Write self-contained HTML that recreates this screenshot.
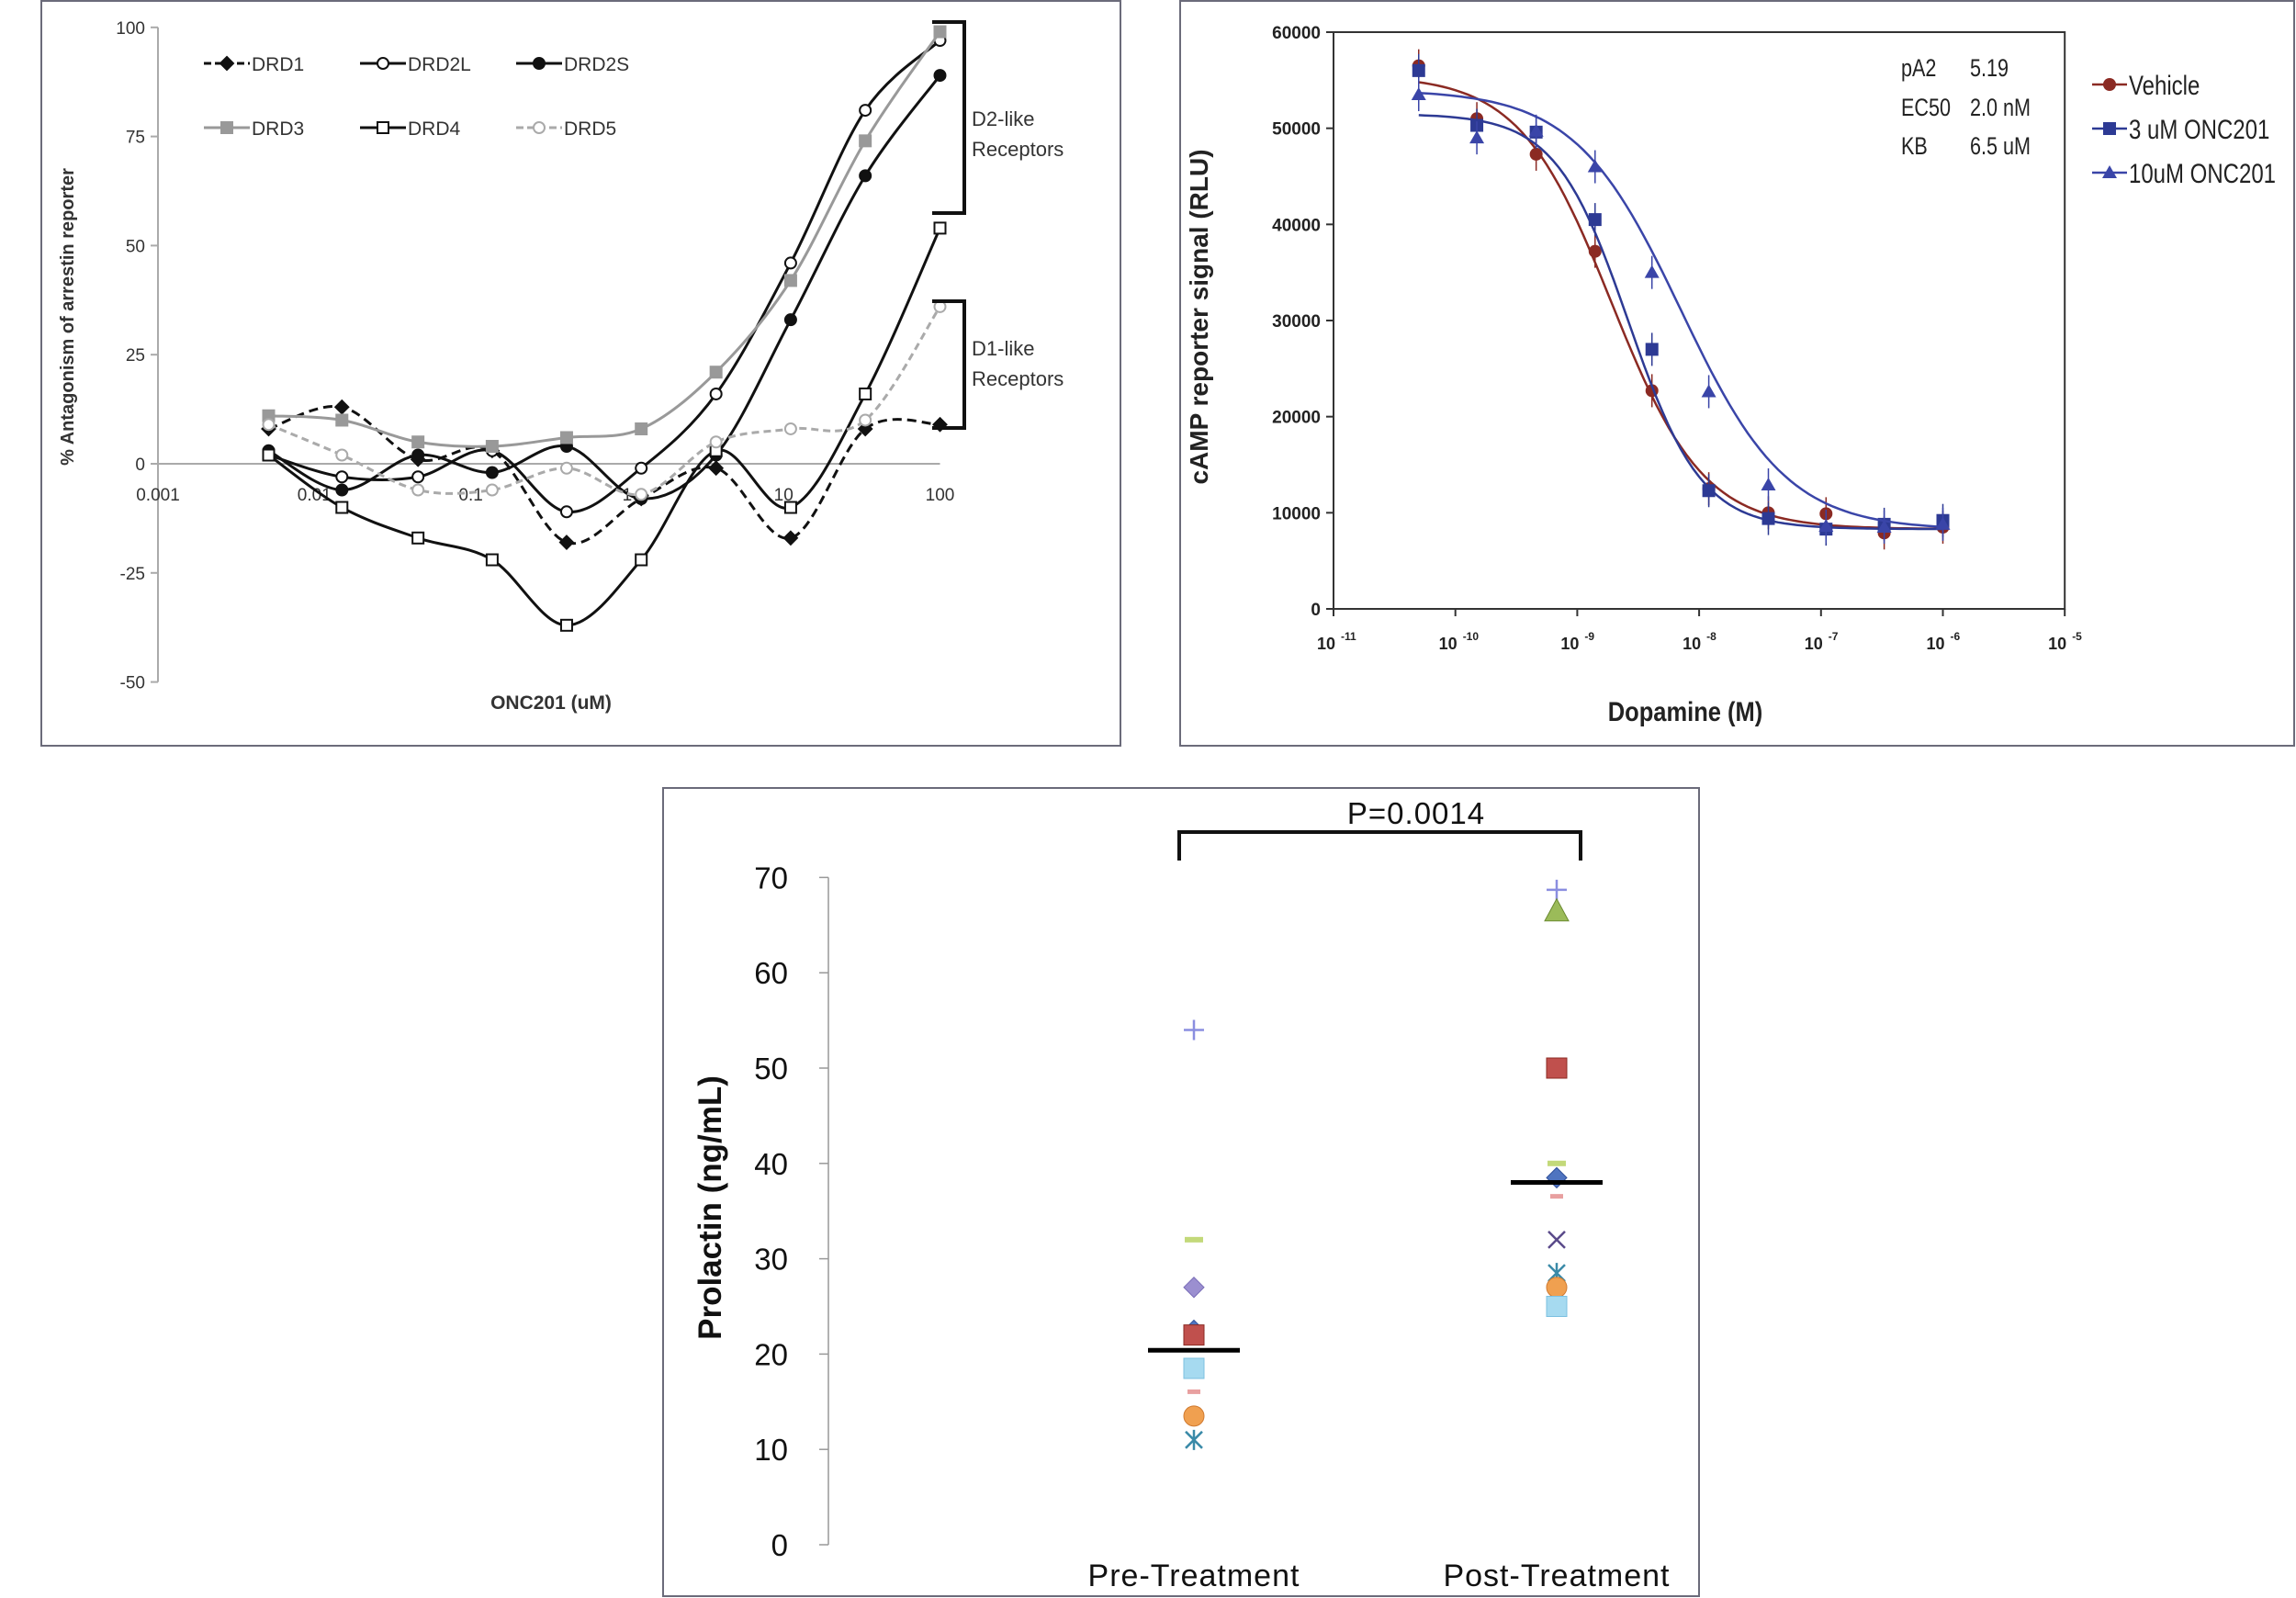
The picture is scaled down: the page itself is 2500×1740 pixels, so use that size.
<!DOCTYPE html>
<html><head><meta charset="utf-8"><style>
html,body{margin:0;padding:0;background:#fff;}
svg{display:block;font-family:"Liberation Sans",sans-serif;}
</style></head><body>
<svg id="s" width="2500" height="1740" viewBox="0 0 2500 1740">
<rect x="45" y="1" width="1175" height="811" fill="none" stroke="#6b6b7a" stroke-width="2"/>
<rect x="1285" y="1" width="1213" height="811" fill="none" stroke="#6b6b7a" stroke-width="2"/>
<rect x="722" y="858" width="1128" height="880" fill="none" stroke="#6b6b7a" stroke-width="2"/>
<g id="ga"></g><g id="gb"></g><g id="gc"></g>
</svg>
<script>
// ---- Panel A data ----
const aConc = [0.0051,0.015,0.046,0.137,0.41,1.23,3.7,11.1,33.3,100];
const drd1 = [8,13,1,3,-18,-8,-1,-17,8,9];
const drd2l = [2,-3,-3,3,-11,-1,16,46,81,97];
const drd2s = [3,-6,2,-2,4,-8,2,33,66,89];
const drd3 = [11,10,5,4,6,8,21,42,74,99];
const drd4 = [2,-10,-17,-22,-37,-22,3,-10,16,54];
const drd5 = [9,2,-6,-6,-1,-7,5,8,10,36];
const aYTicks = [100,75,50,25,0,-25,-50];
const aXTicks = [0.001,0.01,0.1,1,10,100];
const aXTickLabels = ["0.001","0.01","0.1","1","10","100"];
// ---- Panel B data ----
const bConc = [5e-11,1.5e-10,4.6e-10,1.4e-9,4.1e-9,1.2e-8,3.7e-8,1.1e-7,3.3e-7,1e-6];
const vehicle = [56500,51000,47300,37200,22700,12500,10000,9900,7900,8500];
const onc3 = [56000,50300,49600,40500,27000,12300,9400,8300,8800,9200];
const onc10 = [53500,49000,49700,46000,35000,22600,12900,8600,8500,8800];
const fitTop = [55500,51500,54000];
const fitBottom = [8300,8300,8200];
const fitLogEC50 = [-8.72,-8.58,-8.15];
const fitHill = [1.15,1.45,1.0];
const bYTicks = [0,10000,20000,30000,40000,50000,60000];
const bXExp = [-11,-10,-9,-8,-7,-6,-5];
// ---- Panel C data ----
const preVals = [54,32,27,22.5,22,18.5,16,13.5,11];
const postVals = [68.7,66.5,50,40,38.5,36.5,32,28.5,27,25];
const preMean = [20.4];
const postMean = [38];
const cYTicks = [0,10,20,30,40,50,60,70];
const cCats = ["Pre-Treatment","Post-Treatment"];

const NS="http://www.w3.org/2000/svg";
function mk(parent,tag,attrs,txt){const e=document.createElementNS(NS,tag);for(const k in attrs)e.setAttribute(k,attrs[k]);if(txt!==undefined)e.textContent=txt;parent.appendChild(e);return e;}
function smooth(pts){let d="M"+pts[0][0]+","+pts[0][1];for(let i=0;i<pts.length-1;i++){const p0=pts[i-1]||pts[i],p1=pts[i],p2=pts[i+1],p3=pts[i+2]||p2;const c1=[p1[0]+(p2[0]-p0[0])/6,p1[1]+(p2[1]-p0[1])/6],c2=[p2[0]-(p3[0]-p1[0])/6,p2[1]-(p3[1]-p1[1])/6];d+=" C"+c1+" "+c2+" "+p2;}return d;}

// ===== Panel A =====
const ga=document.getElementById('ga');
const xA=v=>172+(Math.log10(v)+3)*170.3, yA=v=>505-v*4.752;
let e=mk(ga,'line',{x1:172,y1:yA(100),x2:172,y2:yA(-50),stroke:'#aaa','stroke-width':2});

e=mk(ga,'line',{x1:172,y1:yA(0),x2:xA(100),y2:yA(0),stroke:'#aaa','stroke-width':2});

aYTicks.forEach(t=>{mk(ga,'line',{x1:164,y1:yA(t),x2:172,y2:yA(t),stroke:'#aaa','stroke-width':2});
 e=mk(ga,'text',{x:158,y:yA(t)+7,'text-anchor':'end','font-size':19,fill:'#333'},t);
 });
aXTicks.forEach((t,i)=>{e=mk(ga,'text',{x:xA(t),y:545,'text-anchor':'middle','font-size':19,fill:'#333'},aXTickLabels[i]);
 });
e=mk(ga,'text',{x:0,y:0,transform:'translate(80,345) rotate(-90)','text-anchor':'middle','font-size':20,'font-weight':'bold',fill:'#333'},'% Antagonism of arrestin reporter');

e=mk(ga,'text',{x:600,y:772,'text-anchor':'middle','font-size':21,'font-weight':'bold',fill:'#333'},'ONC201 (uM)');

const aSeries=[
 {n:'DRD1',d:drd1,c:'#111',dash:'10,6',m:'diamond',fill:'#111'},
 {n:'DRD2L',d:drd2l,c:'#111',dash:'',m:'circle',fill:'#fff'},
 {n:'DRD2S',d:drd2s,c:'#111',dash:'',m:'circle',fill:'#111'},
 {n:'DRD3',d:drd3,c:'#999',dash:'',m:'square',fill:'#999'},
 {n:'DRD4',d:drd4,c:'#111',dash:'',m:'square',fill:'#fff'},
 {n:'DRD5',d:drd5,c:'#aaa',dash:'8,5',m:'circle',fill:'#fff'}];
function marker(g,m,x,y,c,f,r){
 if(m==='circle')return mk(g,'circle',{cx:x,cy:y,r:r,fill:f,stroke:c,'stroke-width':2});
 if(m==='square')return mk(g,'rect',{x:x-r,y:y-r,width:2*r,height:2*r,fill:f,stroke:c,'stroke-width':2});
 return mk(g,'path',{d:`M${x},${y-r-1}L${x+r+1},${y}L${x},${y+r+1}L${x-r-1},${y}Z`,fill:f,stroke:c,'stroke-width':2});}
aSeries.forEach((s,si)=>{
 const pts=s.d.map((v,i)=>[xA(aConc[i]),yA(v)]);
 e=mk(ga,'path',{d:smooth(pts),fill:'none',stroke:s.c,'stroke-width':3,'stroke-dasharray':s.dash});
 
 pts.forEach(p=>{e=marker(ga,s.m,p[0],p[1],s.c,s.fill,6);
  });
 const lx=222+(si%3)*170, ly=si<3?69:139;
 e=mk(ga,'line',{x1:lx,y1:ly,x2:lx+50,y2:ly,stroke:s.c,'stroke-width':3,'stroke-dasharray':s.dash?'8,4':''});
 
 e=marker(ga,s.m,lx+25,ly,s.c,s.fill,6);
 e=mk(ga,'text',{x:lx+52,y:ly+8,'font-size':21,fill:'#333'},s.n);
 });
e=mk(ga,'path',{d:'M1015,24H1050V232H1015',fill:'none',stroke:'#111','stroke-width':4});

e=mk(ga,'path',{d:'M1015,328H1050V466H1015',fill:'none',stroke:'#111','stroke-width':4});

[['D2-like',137],['Receptors',170],['D1-like',387],['Receptors',420]].forEach(a=>{
 e=mk(ga,'text',{x:1058,y:a[1],'font-size':22,fill:'#333'},a[0]);
 });

// ===== Panel B =====
const gb=document.getElementById('gb');
const xB=v=>1452+(Math.log10(v)+11)*132.7, yB=v=>663-v*(628/60000);
e=mk(gb,'rect',{x:1452,y:yB(60000),width:xB(1e-5)-1452,height:628,fill:'none',stroke:'#333','stroke-width':2});

bYTicks.forEach(t=>{mk(gb,'line',{x1:1444,y1:yB(t),x2:1452,y2:yB(t),stroke:'#333','stroke-width':2});
 e=mk(gb,'text',{x:1438,y:yB(t)+7,'text-anchor':'end','font-size':19,'font-weight':'bold',fill:'#222'},t);
 });
bXExp.forEach(t=>{const x=xB(Math.pow(10,t));mk(gb,'line',{x1:x,y1:663,x2:x,y2:671,stroke:'#333','stroke-width':2});
 e=mk(gb,'text',{x:x-8,y:707,'text-anchor':'middle','font-size':18,'font-weight':'bold',fill:'#222'},'10');
 
 mk(gb,'text',{x:x+8,y:697,'font-size':12,'font-weight':'bold',fill:'#222'},String(t));});
e=mk(gb,'text',{x:0,y:0,transform:'translate(1315,345) rotate(-90)','text-anchor':'middle','font-size':28,'font-weight':'bold',fill:'#222'},'cAMP reporter signal (RLU)');

e=mk(gb,'text',{x:1835,y:785,'text-anchor':'middle','font-size':30,'font-weight':'bold',fill:'#222',transform:'translate(1835,0) scale(0.85,1) translate(-1835,0)'},'Dopamine (M)');

const bSeries=[{n:'Vehicle',d:vehicle,c:'#8b2a23',m:'circle'},{n:'3 uM ONC201',d:onc3,c:'#2d3a94',m:'square'},{n:'10uM ONC201',d:onc10,c:'#3a45a8',m:'triangle'}];
bSeries.forEach((s,si)=>{
 let d='';for(let lx=Math.log10(bConc[0]);lx<=-6.0001+0.01;lx+=0.05){const v=fitBottom[si]+(fitTop[si]-fitBottom[si])/(1+Math.pow(10,(lx-fitLogEC50[si])*fitHill[si]));d+=(d?'L':'M')+xB(Math.pow(10,lx)).toFixed(1)+','+yB(v).toFixed(1);}
 e=mk(gb,'path',{d:d,fill:'none',stroke:s.c,'stroke-width':2.5});
 
 s.d.forEach((v,i)=>{const x=xB(bConc[i]),y=yB(v);
  mk(gb,'line',{x1:x,y1:y-18,x2:x,y2:y+18,stroke:s.c,'stroke-width':1.5});
  if(s.m==='circle')e=mk(gb,'circle',{cx:x,cy:y,r:7,fill:s.c});
  else if(s.m==='square')e=mk(gb,'rect',{x:x-7,y:y-7,width:14,height:14,fill:s.c});
  else e=mk(gb,'path',{d:`M${x},${y-8}L${x+8},${y+6}L${x-8},${y+6}Z`,fill:s.c});
  });
 const ly=92+si*48;
 mk(gb,'line',{x1:2278,y1:ly,x2:2316,y2:ly,stroke:s.c,'stroke-width':2.5});
 if(s.m==='circle')mk(gb,'circle',{cx:2297,cy:ly,r:7,fill:s.c});
 else if(s.m==='square')mk(gb,'rect',{x:2290,y:ly-7,width:14,height:14,fill:s.c});
 else mk(gb,'path',{d:`M2297,${ly-8}L2305,${ly+6}L2289,${ly+6}Z`,fill:s.c});
 e=mk(gb,'text',{x:2318,y:ly+11,'font-size':30,fill:'#222',transform:`translate(2318,0) scale(0.8,1) translate(-2318,0)`},s.n);
 });
[['pA2','5.19',83],['EC50','2.0 nM',126],['KB','6.5 uM',168]].forEach(a=>{
 e=mk(gb,'text',{x:2070,y:a[2],'font-size':27,fill:'#222',transform:'translate(2070,0) scale(0.8,1) translate(-2070,0)'},a[0]);
 
 e=mk(gb,'text',{x:2145,y:a[2],'font-size':27,fill:'#222',transform:'translate(2145,0) scale(0.8,1) translate(-2145,0)'},a[1]);
 });

// ===== Panel C =====
const gc=document.getElementById('gc');
const yC=v=>1682-v*10.38, xC=[1300,1695];
e=mk(gc,'line',{x1:902,y1:yC(70),x2:902,y2:yC(0),stroke:'#999','stroke-width':1.5});

cYTicks.forEach(t=>{mk(gc,'line',{x1:892,y1:yC(t),x2:902,y2:yC(t),stroke:'#999','stroke-width':1.5});
 e=mk(gc,'text',{x:858,y:yC(t)+12,'text-anchor':'end','font-size':33,fill:'#111'},t);
 });
cCats.forEach((c,i)=>{e=mk(gc,'text',{x:xC[i],y:1727,'text-anchor':'middle','font-size':34,fill:'#111','letter-spacing':'1'},c);
 });
e=mk(gc,'text',{x:0,y:0,transform:'translate(785,1315) rotate(-90)','text-anchor':'middle','font-size':35,'font-weight':'bold',fill:'#111'},'Prolactin (ng/mL)');

e=mk(gc,'path',{d:'M1284,937V906H1721V937',fill:'none',stroke:'#111','stroke-width':4});

e=mk(gc,'text',{x:1542,y:897,'text-anchor':'middle','font-size':33,fill:'#111','letter-spacing':'1'},'P=0.0014');

const preStyle=['plus','dash-g','diamond-p','diamond-b','square-r','square-c','dash-pk','circle-o','star'];
const postStyle=['plus','tri-g','square-r','dash-g','diamond-b','dash-pk','x','star','circle-o','square-c'];
function cMark(st,x,y){const r=11;
 switch(st){
 case 'plus':return mk(gc,'path',{d:`M${x-r},${y}H${x+r}M${x},${y-r}V${y+r}`,stroke:'#8a8ee0','stroke-width':2.5});
 case 'dash-g':return mk(gc,'rect',{x:x-10,y:y-3,width:20,height:6,fill:'#c3d97a'});
 case 'dash-pk':return mk(gc,'rect',{x:x-7,y:y-3,width:14,height:5,fill:'#e8a0a0'});
 case 'diamond-p':return mk(gc,'path',{d:`M${x},${y-r}L${x+r},${y}L${x},${y+r}L${x-r},${y}Z`,fill:'#9b8fd0',stroke:'#7a6db8'});
 case 'diamond-b':return mk(gc,'path',{d:`M${x},${y-r}L${x+r},${y}L${x},${y+r}L${x-r},${y}Z`,fill:'#4f74c0',stroke:'#2f4f9a'});
 case 'square-r':return mk(gc,'rect',{x:x-r,y:y-r,width:2*r,height:2*r,fill:'#c0504d',stroke:'#8b2a23'});
 case 'square-c':return mk(gc,'rect',{x:x-r,y:y-r,width:2*r,height:2*r,fill:'#a6daf0',stroke:'#7cc0e0'});
 case 'circle-o':return mk(gc,'circle',{cx:x,cy:y,r:r,fill:'#f0a050',stroke:'#d07a30'});
 case 'tri-g':return mk(gc,'path',{d:`M${x},${y-r-2}L${x+r+2},${y+r}L${x-r-2},${y+r}Z`,fill:'#9bbb59',stroke:'#6b8a30'});
 case 'x':return mk(gc,'path',{d:`M${x-9},${y-9}L${x+9},${y+9}M${x+9},${y-9}L${x-9},${y+9}`,stroke:'#5a4a8a','stroke-width':2.5});
 default:return mk(gc,'path',{d:`M${x-9},${y-9}L${x+9},${y+9}M${x+9},${y-9}L${x-9},${y+9}M${x},${y-11}V${y+11}`,stroke:'#3a8aa8','stroke-width':2.5});}}
preVals.forEach((v,i)=>{e=cMark(preStyle[i],xC[0],yC(v));});
postVals.forEach((v,i)=>{e=cMark(postStyle[i],xC[1],yC(v));});
e=mk(gc,'line',{x1:xC[0]-50,y1:yC(preMean[0]),x2:xC[0]+50,y2:yC(preMean[0]),stroke:'#000','stroke-width':5});

e=mk(gc,'line',{x1:xC[1]-50,y1:yC(postMean[0]),x2:xC[1]+50,y2:yC(postMean[0]),stroke:'#000','stroke-width':5});

</script>
</body></html>
